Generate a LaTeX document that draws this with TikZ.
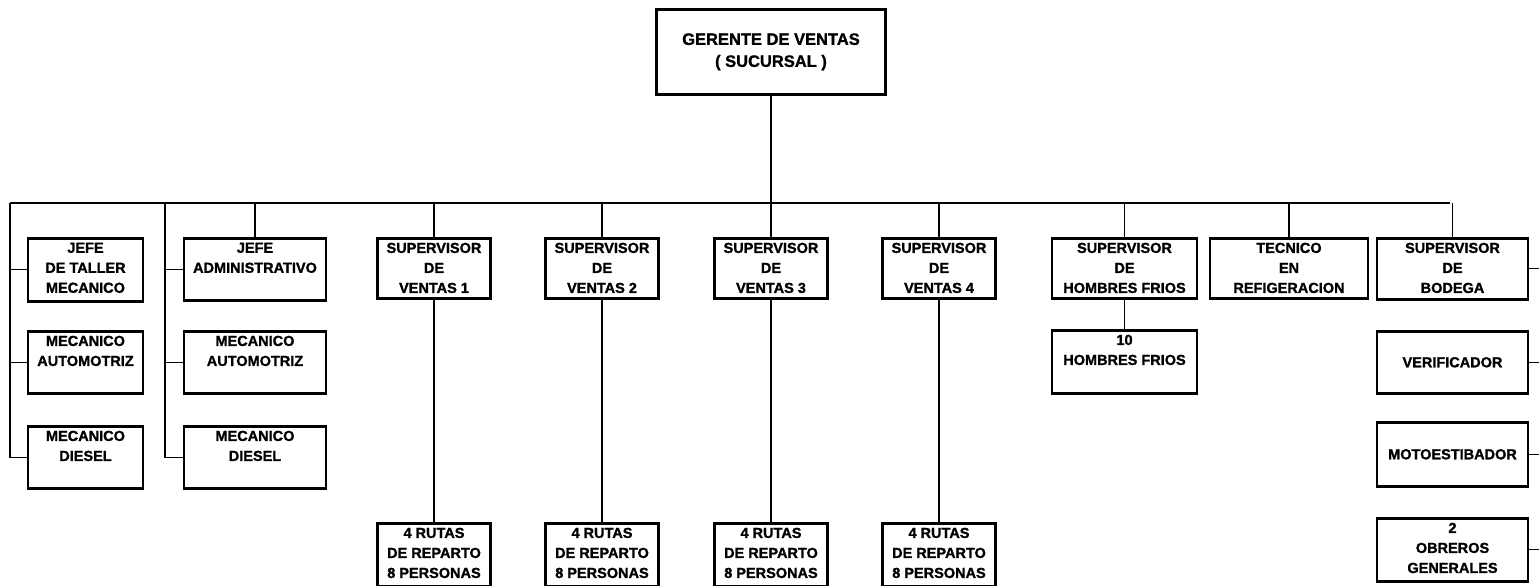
\documentclass[tikz,border=0pt]{standalone}
\usepackage{fontspec}
\setmainfont{Liberation Sans}[BoldFeatures={FakeBold=1.2}]
\tikzset{
  box/.style={draw, line width=2.6pt, inner sep=0pt, anchor=north,
    font=\bfseries\fontsize{14.5}{20}\selectfont},
  conn/.style={line width=1.3pt},
}
\newcommand\bx[7]{\node[box, minimum width=#4pt, minimum height=#5pt] (#1) at (#2,#3)
  {\parbox[c][\dimexpr#5pt-9pt\relax][#6]{#4pt}{\centering #7\par}};}
\begin{document}
\begin{tikzpicture}[x=1pt,y=-1pt]
\useasboundingbox (0,0) rectangle (1539,586);
% top
\node[box, minimum width=229pt, minimum height=85pt, font=\bfseries\fontsize{16.5}{22}\selectfont, align=center] (ger) at (771,8) {GERENTE DE VENTAS\\( SUCURSAL )};
\coordinate (busL) at (10,203);
\coordinate (busR) at (1450,203);
\coordinate (spine2) at (165,203);
\coordinate (redge) at (1539,0);
% column 1
\bx{jt}{85.5}{237}{115}{63}{t}{JEFE\\DE TALLER\\MECANICO}
\bx{ma1}{85.5}{330}{115}{62}{t}{MECANICO\\AUTOMOTRIZ}
\bx{md1}{85.5}{425}{115}{62}{t}{MECANICO\\DIESEL}
% column 2
\bx{ja}{255}{237}{142}{62}{t}{JEFE\\ADMINISTRATIVO}
\bx{ma2}{255}{330}{142}{62}{t}{MECANICO\\AUTOMOTRIZ}
\bx{md2}{255}{425}{142}{62}{t}{MECANICO\\DIESEL}
% supervisors de ventas
\bx{sv1}{434}{237}{113}{60}{t}{SUPERVISOR\\DE\\VENTAS 1}
\bx{sv2}{602}{237}{113}{60}{t}{SUPERVISOR\\DE\\VENTAS 2}
\bx{sv3}{771}{237}{113}{60}{t}{SUPERVISOR\\DE\\VENTAS 3}
\bx{sv4}{939}{237}{113}{60}{t}{SUPERVISOR\\DE\\VENTAS 4}
\bx{r1}{434}{522}{113}{63}{t}{4 RUTAS\\DE REPARTO\\8 PERSONAS}
\bx{r2}{602}{522}{113}{63}{t}{4 RUTAS\\DE REPARTO\\8 PERSONAS}
\bx{r3}{771}{522}{113}{63}{t}{4 RUTAS\\DE REPARTO\\8 PERSONAS}
\bx{r4}{939}{522}{113}{63}{t}{4 RUTAS\\DE REPARTO\\8 PERSONAS}
% hombres frios
\bx{shf}{1124.5}{237}{145}{60}{t}{SUPERVISOR\\DE\\HOMBRES FRIOS}
\bx{hf}{1124.5}{329}{145}{63}{t}{10\\HOMBRES FRIOS}
% tecnico
\bx{tec}{1289}{237}{158}{60}{t}{TECNICO\\EN\\REFIGERACION}
% bodega
\bx{sb}{1452.5}{237}{151}{61}{t}{SUPERVISOR\\DE\\BODEGA}
\bx{ver}{1452.5}{330}{151}{62}{c}{VERIFICADOR}
\bx{mot}{1452.5}{421}{151}{64}{c}{MOTOESTIBADOR}
\bx{obr}{1452.5}{517}{151}{63}{t}{2\\OBREROS\\GENERALES}
% connectors
\draw[conn] (ger.south) -- (ger.south |- busL);
\draw[conn] (busL) -- (busR);
\draw[conn] (busL) |- (jt.west);
\draw[conn] (busL) |- (ma1.west);
\draw[conn] (busL) |- (md1.west);
\draw[conn] (spine2) |- (ja.west);
\draw[conn] (spine2) |- (ma2.west);
\draw[conn] (spine2) |- (md2.west);
\foreach \n in {ja,sv1,sv2,sv3,sv4,shf,tec,sb}
  \draw[conn] (\n.north) -- (\n.north |- busL);
\foreach \a/\b in {sv1/r1,sv2/r2,sv3/r3,sv4/r4,shf/hf}
  \draw[conn] (\a.south) -- (\b.north);
\foreach \n in {sb,ver,mot,obr}
  \draw[conn] (\n.east) -- (\n.east -| redge);
\end{tikzpicture}
\end{document}
